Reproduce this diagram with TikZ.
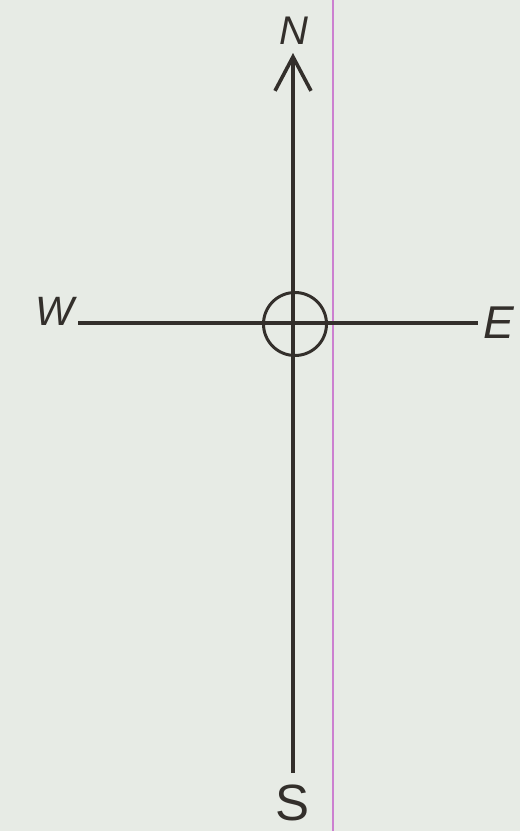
\documentclass[tikz,border=0pt]{standalone}
\usepackage{fontspec}
\setsansfont{Liberation Sans}
\usetikzlibrary{arrows.meta, positioning}
\definecolor{paper}{HTML}{E7EBE5}
\definecolor{ink}{HTML}{332F2B}
\definecolor{crease}{HTML}{CC80D0}

\begin{document}
\begin{tikzpicture}[
    x=1pt, y=-1pt,
    axis/.style={draw=ink, line width=3.6pt},
    hubring/.style={circle, draw=ink, line width=3pt, minimum size=63pt, inner sep=0pt},
    point/.style={font=\sffamily, text=ink, inner sep=0pt},
    northtip/.style={-{Straight Barb[length=34pt, width=36pt, line width=3.6pt]}}
]
    % page
    \fill[paper] (0,0) rectangle (520,831);
    \useasboundingbox (0,0) rectangle (520,831);
    \draw[crease, line width=1.2pt] (333,0) -- (333,831);

    % line ends
    \coordinate (ntip) at (293,53);
    \coordinate (send) at (293,773);
    \coordinate (wend) at (78,323);
    \coordinate (eend) at (478,323);

    % compass points
    \node[point, font=\sffamily\itshape\fontsize{40}{40}\selectfont] (N) at (294,31) {N};
    \node[point, font=\sffamily\itshape\fontsize{41}{41}\selectfont] (W) at (55,311) {W};
    \node[point, font=\sffamily\itshape\fontsize{46}{46}\selectfont] (E) at (499,323) {E};
    \node[point, font=\sffamily\fontsize{51}{51}\selectfont] (S) at (293,803) {S};

    % axes
    \draw[axis, northtip] (send) -- (ntip);
    \draw[axis] (wend) -- (eend);

    % centre
    \node[hubring] (hub) at (295,324) {};
\end{tikzpicture}
\end{document}
